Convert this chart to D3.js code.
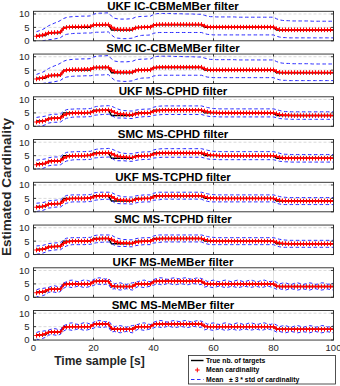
<!DOCTYPE html>
<html>
<head>
<meta charset="utf-8">
<script src="https://cdn.jsdelivr.net/npm/d3@7"></script>
<style>
  body { margin: 0; background: #fff; }
  svg { display: block; font-family: "Liberation Sans", Arial, sans-serif; }
</style>
</head>
<body>
<svg id="chart" width="340" height="386"></svg>
<script>
// ---- data (time sample 1..100) ----
var titles = ["UKF IC-CBMeMBer filter", "SMC IC-CBMeMBer filter", "UKF MS-CPHD filter", "SMC MS-CPHD filter",
              "UKF MS-TCPHD filter", "SMC MS-TCPHD filter", "UKF MS-MeMBer filter", "SMC MS-MeMBer filter"];
var xTicks = [0, 20, 40, 60, 80, 100];
var yTicks = [0, 5, 10];

var truth = [2,2,2,2, 3,3,3,3,3, 5,5,5,5,5,5,5,5,5,5, 6,6,6,6,6,6, 4,4,4,4,4,4,4,4, 5,5,5,5,5,5,
  6,6,6,6,6,6,6,6,6,6,6,6,6,6,6,6,6,
  5,5,5,5,5,5,5,5,5,5,5,5,5,5,5,5,5,5,5,5,5,5,5,5,
  4,4,4,4,4,4,4,4,4,4,4,4,4,4,4,4,4,4,4,4];

// IC-CBMeMBer
var meanIC = [1.7,1.9,2.1,2.5, 2.9,3.0,3.1,3.1,3.3, 4.6,5.0,5.1,5.2,5.2,5.2,5.2,5.3,5.3,5.3, 5.9,6.0,6.0,6.0,6.1,6.0,
  5.1,4.4,4.3,4.2,4.2,4.2,4.2,4.3, 4.8,5.0,5.0,5.1,5.1,5.1,
  5.8,6.0,6.1,6.1,6.1,6.1,6.1,6.1,6.1,6.1,6.1,6.1,6.1,6.1,6.1,6.1,6.1,
  5.5,5.2,5.1,5.1,5.1,5.1,5.1,5.1,5.1,5.1,5.1,5.1,5.1,5.1,5.1,5.1,5.1,5.1,5.1,5.1,5.1,5.1,5.1,5.1,
  4.5,4.2,4.1,4.1,4.1,4.1,4.1,4.1,4.1,4.1,4.1,4.1,4.1,4.1,4.1,4.1,4.1,4.1,4.1,4.1];
var hiIC = [3.4,3.8,4.2,4.8, 5.6,6.1,6.6,7.0,7.6, 8.3,8.7,8.9,9.0,9.1,9.1,9.2,9.2,9.2,9.3, 9.9,10.2,10.3,10.3,10.4,10.4,
  9.2,8.4,8.2,8.1,8.1,8.1,8.2,8.3, 8.8,9.0,9.1,9.1,9.2,9.2,
  9.8,10.1,10.2,10.2,10.2,10.2,10.2,10.1,10.1,10.1,10.0,10.0,10.0,10.0,9.9,9.9,9.9,
  9.5,9.2,9.0,9.0,8.9,8.9,8.9,8.9,8.9,8.9,8.9,8.8,8.8,8.8,8.8,8.8,8.8,8.8,8.8,8.8,8.8,8.8,8.8,8.8,
  8.2,7.8,7.6,7.5,7.5,7.4,7.4,7.4,7.4,7.4,7.4,7.4,7.3,7.3,7.3,7.3,7.3,7.3,7.3,7.3];
var loIC = [-0.4,-0.2,0.0,0.2, 0.4,0.5,0.7,0.9,1.2, 2.0,2.4,2.6,2.7,2.8,2.8,2.8,2.9,2.9,2.9, 3.1,3.2,3.2,3.2,3.3,3.3,
  2.2,1.3,1.0,0.9,0.8,0.8,0.9,1.0, 1.5,1.8,2.0,2.1,2.1,2.2,
  2.8,3.0,3.1,3.1,3.1,3.1,3.1,3.1,3.1,3.1,3.1,3.1,3.1,3.1,3.1,3.1,3.1,
  2.7,2.4,2.3,2.2,2.2,2.2,2.2,2.2,2.2,2.2,2.2,2.2,2.2,2.2,2.2,2.2,2.2,2.2,2.2,2.2,2.2,2.2,2.2,2.2,
  1.7,1.4,1.2,1.2,1.1,1.1,1.1,1.1,1.1,1.1,1.1,1.1,1.1,1.1,1.1,1.1,1.1,1.1,1.1,1.1];

// MS-CPHD
var meanCP = [1.6,1.8,1.9,2.2, 2.7,2.9,3.0,3.0,3.1, 4.0,4.6,4.8,4.9,5.0,5.0,5.0,5.0,5.1,5.1, 5.6,5.8,5.9,6.0,6.0,6.1,
  5.8,5.2,4.8,4.6,4.5,4.4,4.3,4.3, 4.6,4.8,4.9,5.0,5.0,5.1,
  5.6,5.8,5.9,6.0,6.0,6.0,6.0,6.0,6.0,6.0,6.0,6.0,6.0,6.0,6.0,6.0,6.0,
  5.7,5.4,5.2,5.1,5.1,5.0,5.0,5.0,5.0,5.0,5.0,5.0,5.0,5.0,5.0,5.0,5.0,5.0,5.0,5.0,5.0,5.0,5.0,5.0,
  4.7,4.4,4.2,4.1,4.1,4.0,4.0,4.0,4.0,4.0,4.0,4.0,4.0,4.0,4.0,4.0,4.0,4.0,4.0,4.0];
var hiCP = [3.3,3.5,3.6,3.8, 4.2,4.4,4.5,4.5,4.6, 5.6,6.2,6.4,6.4,6.5,6.5,6.5,6.5,6.6,6.6, 7.1,7.4,7.5,7.6,7.6,7.7,
  7.5,7.0,6.5,6.1,5.9,5.8,5.7,5.7, 6.0,6.2,6.3,6.4,6.4,6.5,
  7.1,7.4,7.5,7.6,7.6,7.6,7.6,7.6,7.6,7.6,7.6,7.6,7.6,7.6,7.6,7.6,7.6,
  7.3,7.0,6.8,6.6,6.6,6.5,6.5,6.5,6.5,6.5,6.5,6.5,6.5,6.5,6.5,6.5,6.5,6.5,6.5,6.5,6.5,6.5,6.5,6.5,
  6.2,5.9,5.6,5.5,5.5,5.4,5.4,5.4,5.4,5.4,5.4,5.4,5.4,5.4,5.4,5.4,5.4,5.4,5.4,5.4];
var loCP = [-0.1,0.1,0.2,0.6, 1.2,1.4,1.5,1.5,1.6, 2.4,3.0,3.2,3.4,3.5,3.5,3.5,3.5,3.6,3.6, 4.1,4.2,4.3,4.4,4.4,4.5,
  4.1,3.4,3.1,3.1,3.1,3.0,2.9,2.9, 3.2,3.4,3.5,3.6,3.6,3.7,
  4.1,4.2,4.3,4.4,4.4,4.4,4.4,4.4,4.4,4.4,4.4,4.4,4.4,4.4,4.4,4.4,4.4,
  4.1,3.8,3.6,3.6,3.6,3.5,3.5,3.5,3.5,3.5,3.5,3.5,3.5,3.5,3.5,3.5,3.5,3.5,3.5,3.5,3.5,3.5,3.5,3.5,
  3.2,2.9,2.8,2.7,2.7,2.6,2.6,2.6,2.6,2.6,2.6,2.6,2.6,2.6,2.6,2.6,2.6,2.6,2.6,2.6];

// MS-TCPHD
var meanTC = [1.7,1.8,2.0,2.3, 2.8,2.9,3.0,3.1,3.1, 4.1,4.7,4.9,5.0,5.0,5.0,5.0,5.0,5.1,5.1, 5.6,5.8,5.9,6.0,6.0,6.0,
  5.7,5.0,4.6,4.4,4.3,4.3,4.2,4.2, 4.6,4.8,4.9,5.0,5.0,5.0,
  5.6,5.8,5.9,6.0,6.0,6.0,6.0,6.0,6.0,6.0,6.0,6.0,6.0,6.0,6.0,6.0,6.0,
  5.6,5.3,5.1,5.1,5.0,5.0,5.0,5.0,5.0,5.0,5.0,5.0,5.0,5.0,5.0,5.0,5.0,5.0,5.0,5.0,5.0,5.0,5.0,5.0,
  4.6,4.3,4.1,4.1,4.0,4.0,4.0,4.0,4.0,4.0,4.0,4.0,4.0,4.0,4.0,4.0,4.0,4.0,4.0,4.0];
var hiTC = [3.2,3.3,3.4,3.7, 4.1,4.2,4.3,4.4,4.4, 5.5,6.1,6.2,6.3,6.3,6.3,6.3,6.3,6.4,6.4, 7.0,7.2,7.3,7.3,7.3,7.3,
  7.2,6.6,6.1,5.8,5.6,5.6,5.5,5.5, 5.9,6.1,6.2,6.3,6.3,6.3,
  6.9,7.2,7.3,7.3,7.3,7.3,7.3,7.3,7.3,7.3,7.3,7.3,7.3,7.3,7.3,7.3,7.3,
  7.0,6.7,6.5,6.4,6.3,6.3,6.3,6.3,6.3,6.3,6.3,6.3,6.3,6.3,6.3,6.3,6.3,6.3,6.3,6.3,6.3,6.3,6.3,6.3,
  6.0,5.7,5.5,5.4,5.3,5.3,5.3,5.3,5.3,5.3,5.3,5.3,5.3,5.3,5.3,5.3,5.3,5.3,5.3,5.3];
var loTC = [0.1,0.3,0.5,0.9, 1.4,1.5,1.7,1.8,1.8, 2.6,3.2,3.5,3.7,3.7,3.7,3.7,3.7,3.8,3.8, 4.2,4.4,4.5,4.6,4.6,4.7,
  4.2,3.4,3.1,3.0,3.0,3.0,2.9,2.9, 3.3,3.5,3.6,3.7,3.7,3.7,
  4.3,4.4,4.5,4.7,4.7,4.7,4.7,4.7,4.7,4.7,4.7,4.7,4.7,4.7,4.7,4.7,4.7,
  4.2,3.9,3.7,3.7,3.7,3.7,3.7,3.7,3.7,3.7,3.7,3.7,3.7,3.7,3.7,3.7,3.7,3.7,3.7,3.7,3.7,3.7,3.7,3.7,
  3.2,2.9,2.7,2.7,2.7,2.7,2.7,2.7,2.7,2.7,2.7,2.7,2.7,2.7,2.7,2.7,2.7,2.7,2.7,2.7];

// MS-MeMBer
var meanMB = [1.7,1.9,2.0,2.4, 2.9,3.0,3.0,3.0,3.1, 4.6,4.9,5.0,5.0,5.0,5.0,5.0,5.0,5.0,5.0, 5.8,6.0,6.0,6.0,6.0,5.9,
  4.4,4.1,4.0,4.0,4.0,4.0,4.0,4.0, 4.8,5.0,5.0,5.0,5.0,5.0,
  5.8,6.0,6.0,6.0,6.0,6.0,6.0,6.0,6.0,6.0,6.0,6.0,6.0,6.0,6.0,6.0,6.0,
  5.2,5.0,5.0,5.0,5.0,5.0,5.0,5.0,5.0,5.0,5.0,5.0,5.0,5.0,5.0,5.0,5.0,5.0,5.0,5.0,5.0,5.0,5.0,5.0,
  4.2,4.0,4.0,4.0,4.0,4.0,4.0,4.0,4.0,4.0,4.0,4.0,4.0,4.0,4.0,4.0,4.0,4.0,4.0,4.0];
var hiMB = [2.8,3.2,3.3,3.5, 3.7,4.1,4.3,4.0,3.8, 5.3,5.8,6.3,6.4,6.0,5.8,6.2,6.5,6.3,5.9, 6.6,7.1,7.3,7.0,6.8,7.0,
  5.9,5.0,5.3,5.4,5.0,4.8,5.2,5.4, 5.6,5.9,6.3,6.4,6.0,5.8,
  6.6,7.0,7.3,7.2,6.8,6.7,7.1,7.3,7.0,6.8,7.2,7.3,6.9,6.7,7.1,7.3,7.0,
  6.5,5.9,6.2,6.4,6.0,5.8,6.2,6.4,6.1,5.8,6.1,6.4,6.2,5.8,6.0,6.4,6.3,5.9,5.9,6.3,6.4,6.0,5.8,6.2,
  5.6,5.0,5.3,5.4,5.0,4.8,5.2,5.4,5.1,4.8,5.1,5.4,5.2,4.8,5.0,5.4,5.3,4.9,4.9,5.3];
var loMB = [0.4,0.0,0.6,1.0, 1.8,2.1,1.9,1.7,2.2, 3.3,4.0,3.8,3.6,3.9,4.2,3.9,3.6,3.8,4.1, 4.4,5.0,4.8,4.6,4.9,4.9,
  3.0,3.2,2.9,2.7,3.0,3.2,2.9,2.7, 3.5,4.1,3.8,3.6,3.9,4.2,
  4.5,5.0,4.8,4.6,4.9,5.2,4.9,4.6,4.8,5.1,4.9,4.6,4.8,5.1,5.0,4.7,4.8,
  3.8,4.1,3.8,3.6,3.9,4.2,3.9,3.6,3.8,4.1,3.9,3.6,3.8,4.1,4.0,3.7,3.8,4.1,3.9,3.6,3.9,4.2,3.9,3.6,
  3.0,3.2,2.9,2.7,3.0,3.2,2.9,2.7,2.9,3.1,2.9,2.7,3.0,3.2,2.9,2.7,2.9,3.1,2.9,2.7];

var panelMean = [meanIC, meanIC, meanCP, meanCP, meanTC, meanTC, meanMB, meanMB];
var panelHi = [hiIC, hiIC, hiCP, hiCP, hiTC, hiTC, hiMB, hiMB];
var panelLo = [loIC, loIC, loCP, loCP, loTC, loTC, loMB, loMB];

// ---- layout ----
var svg = d3.select("#chart");
var left = 33.5, right = 333.5;
var panelH = 29.5, firstBottom = 40.8, step = 42.75;
var axisColor = "#262626";

var x = d3.scaleLinear().domain([0, 100]).range([left, right]);
var t = d3.range(1, 101);

titles.forEach(function (title, i) {
    var bottom = firstBottom + i * step;
    var top = bottom - panelH;
    var y = d3.scaleLinear().domain([0, 11]).range([bottom, top]);
    var g = svg.append("g");

    // grid
    g.selectAll(".vgrid").data(xTicks.slice(1, -1)).enter().append("line")
        .attr("x1", d => x(d)).attr("x2", d => x(d))
        .attr("y1", top).attr("y2", bottom)
        .attr("stroke", "#d9d9d9").attr("stroke-width", 0.8);
    g.selectAll(".hgrid").data(yTicks.slice(1)).enter().append("line")
        .attr("x1", left).attr("x2", right)
        .attr("y1", d => y(d)).attr("y2", d => y(d))
        .attr("stroke", "#d0d0d0").attr("stroke-width", 0.8)
        .attr("stroke-dasharray", "3,2");

    // clip to axes box
    svg.append("clipPath").attr("id", "clip" + i)
        .append("rect").attr("x", left).attr("y", top)
        .attr("width", right - left).attr("height", panelH);
    var plot = g.append("g").attr("clip-path", "url(#clip" + i + ")");

    var line = function (arr) {
        return d3.line().x((d, j) => x(t[j])).y(d => y(d))(arr);
    };

    plot.append("path").attr("d", line(truth))
        .attr("fill", "none").attr("stroke", "#000").attr("stroke-width", 1.4);

    plot.append("path").attr("d", line(panelMean[i]))
        .attr("fill", "none").attr("stroke", "#ff0000").attr("stroke-width", 1.5);

    plot.selectAll(".mk").data(panelMean[i]).enter().append("path")
        .attr("d", (d, j) => {
            var px = x(t[j]), py = y(d);
            return "M" + (px - 2.3) + "," + py + "H" + (px + 2.3) + "M" + px + "," + (py - 2.3) + "V" + (py + 2.3);
        })
        .attr("stroke", "#ff0000").attr("stroke-width", 1);

    [panelHi[i], panelLo[i]].forEach(function (arr) {
        plot.append("path").attr("d", line(arr))
            .attr("fill", "none").attr("stroke", "#2a2aff").attr("stroke-width", 1)
            .attr("stroke-dasharray", "3.5,2.5");
    });

    // box and ticks
    g.append("rect").attr("x", left).attr("y", top)
        .attr("width", right - left).attr("height", panelH)
        .attr("fill", "none").attr("stroke", axisColor).attr("stroke-width", 0.9);
    xTicks.forEach(function (d) {
        g.append("line").attr("x1", x(d)).attr("x2", x(d)).attr("y1", bottom).attr("y2", bottom - 2.5)
            .attr("stroke", axisColor).attr("stroke-width", 0.9);
        g.append("line").attr("x1", x(d)).attr("x2", x(d)).attr("y1", top).attr("y2", top + 2.5)
            .attr("stroke", axisColor).attr("stroke-width", 0.9);
    });
    yTicks.forEach(function (d) {
        g.append("line").attr("x1", left).attr("x2", left + 2.5).attr("y1", y(d)).attr("y2", y(d))
            .attr("stroke", axisColor).attr("stroke-width", 0.9);
        g.append("line").attr("x1", right).attr("x2", right - 2.5).attr("y1", y(d)).attr("y2", y(d))
            .attr("stroke", axisColor).attr("stroke-width", 0.9);
        g.append("text").attr("x", left - 4).attr("y", y(d) + 3.4)
            .attr("text-anchor", "end").attr("font-size", "9.5px").attr("fill", axisColor)
            .text(d);
    });

    // title
    g.append("text").attr("x", 173).attr("y", top - 1.6)
        .attr("text-anchor", "middle").attr("font-size", "11.5px").attr("font-weight", "bold")
        .attr("fill", "#000").text(title);

    if (i === titles.length - 1) {
        xTicks.forEach(function (d) {
            g.append("text").attr("x", x(d)).attr("y", bottom + 11)
                .attr("text-anchor", "middle").attr("font-size", "9.5px").attr("fill", axisColor)
                .text(d);
        });
    }
});

// axis labels
svg.append("text").attr("x", 99.5).attr("y", 365)
    .attr("text-anchor", "middle").attr("font-size", "12px").attr("font-weight", "bold")
    .attr("fill", axisColor).text("Time sample [s]");
svg.append("text").attr("transform", "translate(11,187) rotate(-90)")
    .attr("text-anchor", "middle").attr("font-size", "13.5px").attr("font-weight", "bold")
    .attr("fill", axisColor).text("Estimated Cardinality");

// legend
var lg = svg.append("g");
lg.append("rect").attr("x", 188.5).attr("y", 355.5).attr("width", 147).attr("height", 28.5)
    .attr("fill", "#fff").attr("stroke", axisColor).attr("stroke-width", 0.8);
var rows = [360.5, 370, 379.5];
lg.append("line").attr("x1", 191).attr("x2", 203.5).attr("y1", rows[0]).attr("y2", rows[0])
    .attr("stroke", "#000").attr("stroke-width", 1.4);
lg.append("path").attr("d", "M195,370H199.6M197.3,367.7V372.3")
    .attr("stroke", "#ff0000").attr("stroke-width", 1);
lg.append("line").attr("x1", 191).attr("x2", 203.5).attr("y1", rows[2]).attr("y2", rows[2])
    .attr("stroke", "#2a2aff").attr("stroke-width", 1).attr("stroke-dasharray", "3.5,2.5");
var legendText = ["True nb. of targets", "Mean cardinality", "Mean   \u00b1 3 * std of cardinality"];
legendText.forEach(function (s, k) {
    lg.append("text").attr("x", 206).attr("y", rows[k] + 2.3)
        .attr("font-size", "6.8px").attr("font-weight", "bold").attr("fill", "#000")
        .style("white-space", "pre").text(s);
});
</script>
</body>
</html>
